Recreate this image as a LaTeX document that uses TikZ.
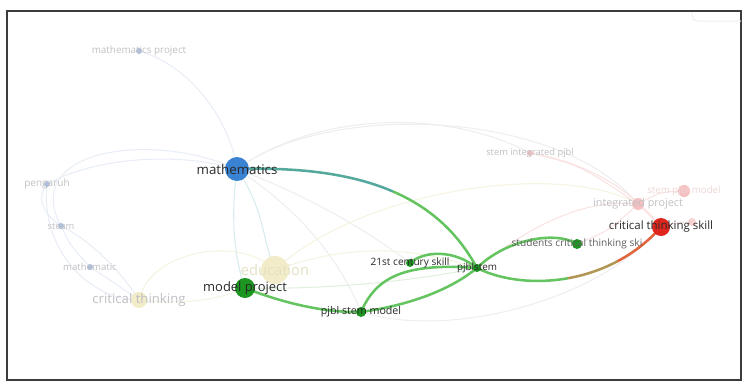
\documentclass[tikz,border=0pt]{standalone}
\usepackage{fontspec}
\setmainfont{Open Sans}

\definecolor{frameclr}{RGB}{60,60,60}
\definecolor{txtdark}{RGB}{40,40,40}
\definecolor{txtmid}{RGB}{95,95,95}
\definecolor{txtfaint}{RGB}{192,192,196}
\definecolor{txtyel}{RGB}{228,224,196}
\definecolor{txtpink}{RGB}{238,214,214}
\definecolor{bluedot}{RGB}{58,130,210}
\definecolor{bluefaint}{RGB}{172,192,222}
\definecolor{greendot}{RGB}{28,150,32}
\definecolor{greenedge}{RGB}{100,196,96}
\definecolor{tealedge}{RGB}{84,168,156}
\definecolor{oliveedge}{RGB}{178,150,84}
\definecolor{orangeedge}{RGB}{224,100,60}
\definecolor{reddot}{RGB}{222,38,30}
\definecolor{pinkdot}{RGB}{246,192,192}
\definecolor{yeldot}{RGB}{242,236,200}
\definecolor{lnblue}{RGB}{232,237,246}
\definecolor{lnteal}{RGB}{216,236,238}
\definecolor{lnyel}{RGB}{246,243,224}
\definecolor{lnred}{RGB}{250,226,226}
\definecolor{lngrey}{RGB}{238,238,242}
\definecolor{lngreen}{RGB}{224,240,222}

\tikzset{every picture/.style={line width=0.75pt}}
\tikzset{
  bub/.style={circle, inner sep=0pt, draw=none, minimum size=#1*1.5pt},
  lbl/.style={inner sep=0pt, font=\fontsize{#1}{#1}\selectfont},
  strong/.style={line width=1.9pt, color=greenedge},
  faint/.style={line width=0.8pt}
}

\begin{document}
\begin{tikzpicture}[x=0.75pt,y=0.75pt,yscale=-1,xscale=1]
\useasboundingbox (0,0) rectangle (742,382);

% positions
\coordinate (mproj) at (139,51);
\coordinate (math) at (237,169);
\coordinate (peng) at (47,184);
\coordinate (steam) at (61,226);
\coordinate (mathc) at (90,267);
\coordinate (crit) at (139,300);
\coordinate (edu) at (275,270);
\coordinate (mp) at (245,288);
\coordinate (psm) at (361,312);
\coordinate (c21) at (410,263);
\coordinate (pjs) at (477,268);
\coordinate (sct) at (577,244);
\coordinate (cts) at (661,227);
\coordinate (ip) at (638,204);
\coordinate (spm) at (684,191);
\coordinate (sip) at (530,153);
\coordinate (sml) at (692,222);
\coordinate (mjoin) at (393,191.5);
\coordinate (ctsA) at (567.9,278.25);
\coordinate (ctsB) at (617.5,261.25);

%Frame
\draw [frameclr, line width=1.1pt] (7,11) rectangle (741,380);
\draw [lngrey, rounded corners=4] (692,12) -- (692,21) -- (741,21);

%Curve Lines (faint)
\draw [faint, lnblue] (mproj) .. controls (190,65) and (230,120) .. (math);
\draw [faint, lnblue] (math) .. controls (150,130) and (20,150) .. (steam);
\draw [faint, lnblue] (math) .. controls (170,150) and (90,160) .. (peng);
\draw [faint, lnblue] (peng) .. controls (35,200) and (45,215) .. (steam);
\draw [faint, lnblue] (steam) .. controls (70,245) .. (mathc);
\draw [faint, lnblue] (steam) .. controls (90,240) and (120,270) .. (crit);
\draw [faint, lnblue] (mathc) .. controls (110,280) .. (crit);
\draw [faint, lnblue] (peng) .. controls (40,250) and (90,300) .. (crit);
\draw [faint, lnyel] (crit) .. controls (150,250) and (240,235) .. (edu);
\draw [faint, lnyel] (crit) .. controls (180,305) and (220,300) .. (mp);
\draw [faint, lnteal] (math) .. controls (230,220) and (235,260) .. (mp);
\draw [faint, lnteal] (math) .. controls (265,210) and (262,240) .. (edu);
\draw [faint, lngrey] (math) .. controls (320,110) and (450,110) .. (sip);
\draw [faint, lngrey] (math) .. controls (330,100) and (560,110) .. (ip);
\draw [faint, lngrey] (math) .. controls (300,210) and (340,260) .. (psm);
\draw [faint, lngrey] (math) .. controls (320,200) and (380,240) .. (c21);
\draw [faint, lnyel] (edu) .. controls (360,190) and (560,160) .. (ip);
\draw [faint, lnyel] (edu) .. controls (360,240) and (420,250) .. (pjs);
\draw [faint, lngreen] (mp) .. controls (330,290) and (420,280) .. (pjs);
\draw [faint, lnred] (sip) .. controls (580,165) .. (ip);
\draw [faint, lnred] (sip) .. controls (600,165) and (640,200) .. (cts);
\draw [faint, lnred] (ip) .. controls (650,215) .. (cts);
\draw [faint, lnred] (spm) .. controls (660,192) .. (ip);
\draw [faint, lnred] (sml) .. controls (680,222) .. (cts);
\draw [faint, lnred] (sct) .. controls (610,230) .. (ip);
\draw [faint, lnred] (pjs) .. controls (550,210) and (600,200) .. (ip);
\draw [faint, lngrey] (psm) .. controls (450,340) and (600,300) .. (cts);

%Curve Lines (strong)
\draw [strong, tealedge] (math) .. controls (303.5,167) and (354.25,174.75) .. (mjoin);
\draw [strong] (mjoin) .. controls (431.75,208.25) and (458.5,234) .. (pjs);
\draw [strong] (mp) .. controls (275,300) and (320,313) .. (psm);
\draw [strong] (psm) .. controls (375,280) and (400,262) .. (pjs);
\draw [strong] (psm) .. controls (410,305) and (450,290) .. (pjs);
\draw [strong] (c21) .. controls (425,250) and (455,250) .. (pjs);
\draw [strong] (pjs) .. controls (505,240) and (555,230) .. (sct);
\draw [strong] (pjs) .. controls (501,280) and (534.25,284.25) .. (ctsA);
\draw [strong, oliveedge] (ctsA) .. controls (584.7,275.25) and (601.6,269.7) .. (ctsB);
\draw [strong, orangeedge] (ctsB) .. controls (633.4,252.8) and (648.25,241.5) .. (cts);

%Shape: Circle
\node [bub=3, fill=bluefaint] (mproj-dot) at (mproj) {};
\node [bub=12, fill=bluedot] (math-dot) at (math) {};
\node [bub=3, fill=bluefaint] (peng-dot) at (peng) {};
\node [bub=3, fill=bluefaint] (steam-dot) at (steam) {};
\node [bub=3, fill=bluefaint] (mathc-dot) at (mathc) {};
\node [bub=8, fill=yeldot] (crit-dot) at (crit) {};
\node [bub=14, fill=yeldot] (edu-dot) at (edu) {};
\node [bub=10, fill=greendot] (mp-dot) at (mp) {};
\node [bub=5, fill=greendot] (psm-dot) at (psm) {};
\node [bub=4, fill=greendot] (c21-dot) at (c21) {};
\node [bub=4, fill=greendot] (pjs-dot) at (pjs) {};
\node [bub=5, fill=greendot] (sct-dot) at (sct) {};
\node [bub=9, fill=reddot] (cts-dot) at (cts) {};
\node [bub=6, fill=pinkdot] (ip-dot) at (ip) {};
\node [bub=6, fill=pinkdot] (spm-dot) at (spm) {};
\node [bub=3, fill=pinkdot] (sip-dot) at (sip) {};
\node [bub=4, fill=pinkdot!70] (sml-dot) at (sml) {};

% Text Node
\node [lbl=7.4, text=txtfaint] (mproj-lbl) at (mproj) {mathematics project};
% Text Node
\node [lbl=10, text=txtdark] (math-lbl) at (math) {mathematics};
% Text Node
\node [lbl=7.5, text=txtfaint] (peng-lbl) at (peng) {pengaruh};
% Text Node
\node [lbl=7, text=txtfaint] (steam-lbl) at (steam) {steam};
% Text Node
\node [lbl=7.2, text=txtfaint] (mathc-lbl) at (mathc) {mathematic};
% Text Node
\node [lbl=9.9, text=txtfaint] (crit-lbl) at (crit) {critical thinking};
% Text Node
\node [lbl=11, text=txtyel] (edu-lbl) at (edu) {education};
% Text Node
\node [lbl=9.7, text=txtdark] (mp-lbl) at (mp) {model project};
% Text Node
\node [lbl=8, text=txtdark] (psm-lbl) at (psm) {pjbl stem model};
% Text Node
\node [lbl=7.6, text=txtdark] (c21-lbl) at (c21) {21st century skill};
% Text Node
\node [lbl=7.4, text=txtdark] (pjs-lbl) at (pjs) {pjblstem};
% Text Node
\node [lbl=7.6, text=txtmid] (sct-lbl) at (sct) {students critical thinking ski};
% Text Node
\node [lbl=8.6, text=txtdark] (cts-lbl) at (cts) {critical thinking skill};
% Text Node
\node [lbl=8.1, text=txtfaint] (ip-lbl) at (ip) {integrated project};
% Text Node
\node [lbl=7.3, text=txtpink] (spm-lbl) at (spm) {stem pjbl model};
% Text Node
\node [lbl=7, text=txtfaint] (sip-lbl) at (sip) {stem integrated pjbl};

\end{tikzpicture}
\end{document}
